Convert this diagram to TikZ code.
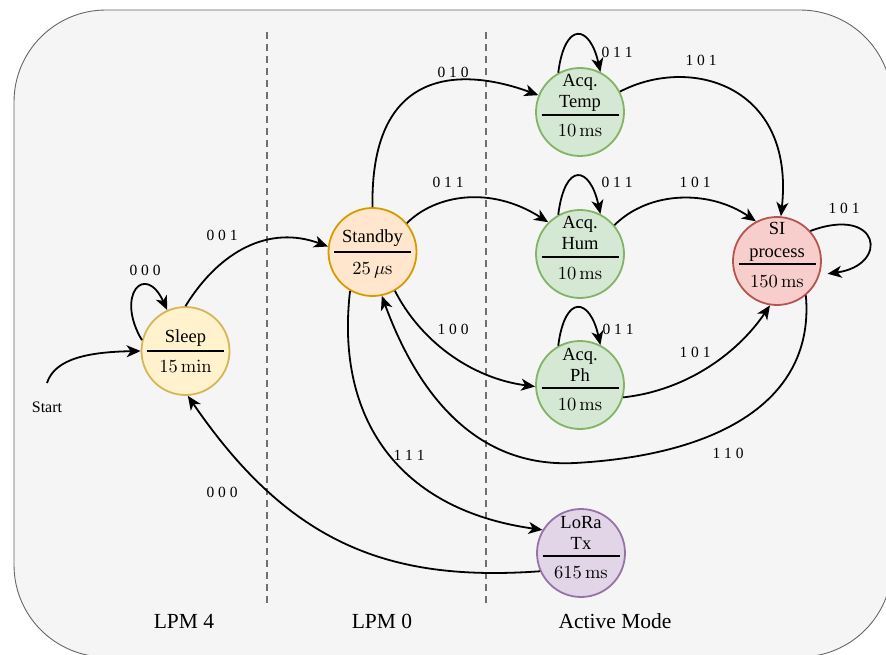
\documentclass[tikz,border=0pt]{standalone}
\usepackage{fix-cm}
\usepackage[no-math]{fontspec}
\setmainfont{Liberation Serif}
\usetikzlibrary{arrows.meta}
\definecolor{bgfill}{HTML}{F5F5F5}
\definecolor{framegray}{HTML}{666666}
\definecolor{divgray}{HTML}{707070}
\definecolor{sleepfill}{HTML}{FFF2CC}
\definecolor{sleepdraw}{HTML}{D6B656}
\definecolor{stbyfill}{HTML}{FFE6CC}
\definecolor{stbydraw}{HTML}{D79B00}
\definecolor{grnfill}{HTML}{D5E8D4}
\definecolor{grndraw}{HTML}{82B366}
\definecolor{redfill}{HTML}{F8CECC}
\definecolor{reddraw}{HTML}{B85450}
\definecolor{purfill}{HTML}{E1D5E7}
\definecolor{purdraw}{HTML}{9673A6}
\newcommand{\durtxt}[1]{\scalebox{1.85}{\fontsize{10}{12}\selectfont$#1$}}
\begin{document}
\begin{tikzpicture}[x=1pt,y=-1pt,
  state/.style={circle,minimum size=88pt,inner sep=0pt,line width=1.8pt},
  nametext/.style={anchor=base,inner sep=0pt,font=\fontsize{18.5}{21}\selectfont},
  sepline/.style={line width=1.9pt},
  edge/.style={line width=1.8pt,-{Stealth[length=14pt,width=12pt,inset=4pt]}},
  lab/.style={font=\fontsize{15.5}{18}\selectfont,inner sep=0pt},
  region/.style={font=\fontsize{21.5}{24}\selectfont,inner sep=0pt},
  divider/.style={line width=2pt,draw=divgray,dash pattern=on 7pt off 5pt}]
\useasboundingbox (0,0) rectangle (886,655);
\clip (0,0) rectangle (886,655);
% background
\draw[draw=framegray,fill=bgfill,line width=0.9pt,rounded corners=92pt] (14,10) rectangle (892,657);
% dividers
\coordinate (d1top) at (266.5,32);
\coordinate (d1bot) at (266.5,604);
\coordinate (d2top) at (486,32);
\coordinate (d2bot) at (486,604);
\draw[divider] (d1top) -- (d1bot);
\draw[divider] (d2top) -- (d2bot);
% region labels
\node[region] (lpm4) at (184,621) {LPM 4};
\node[region] (lpm0) at (382,621) {LPM 0};
\node[region] (active) at (615,621) {Active Mode};
% states
\node[state,draw=sleepdraw,fill=sleepfill] (sleep) at (185.5,351) {};
\node[nametext] (sleepn) at ([yshift=9pt]sleep.center) {Sleep};
\node[nametext] (sleept) at ([yshift=-21pt]sleep.center) {\durtxt{15\,\mathrm{min}}};
\draw[sepline] ([xshift=-38.5pt]sleep.center) -- ([xshift=38.5pt]sleep.center);

\node[state,draw=stbydraw,fill=stbyfill] (standby) at (372.5,252) {};
\node[nametext] (standbyn) at ([yshift=9pt]standby.center) {Standby};
\node[nametext] (standbyt) at ([yshift=-22pt]standby.center) {\durtxt{25\,\mu\mathrm{s}}};
\draw[sepline] ([xshift=-38.5pt]standby.center) -- ([xshift=38.5pt]standby.center);

\node[state,draw=grndraw,fill=grnfill] (temp) at (580,112) {};
\node[nametext] (tempa) at ([yshift=25pt]temp.center) {Acq.};
\node[nametext] (tempb) at ([yshift=4pt]temp.center) {Temp};
\node[nametext] (tempt) at ([yshift=-25pt]temp.center) {\durtxt{10\,\mathrm{ms}}};
\draw[sepline] ([xshift=-38.5pt,yshift=-3pt]temp.center) -- ([xshift=38.5pt,yshift=-3pt]temp.center);

\node[state,draw=grndraw,fill=grnfill] (hum) at (580,254) {};
\node[nametext] (huma) at ([yshift=25pt]hum.center) {Acq.};
\node[nametext] (humb) at ([yshift=4pt]hum.center) {Hum};
\node[nametext] (humt) at ([yshift=-25pt]hum.center) {\durtxt{10\,\mathrm{ms}}};
\draw[sepline] ([xshift=-38.5pt,yshift=-3pt]hum.center) -- ([xshift=38.5pt,yshift=-3pt]hum.center);

\node[state,draw=grndraw,fill=grnfill] (ph) at (580,385) {};
\node[nametext] (pha) at ([yshift=25pt]ph.center) {Acq.};
\node[nametext] (phb) at ([yshift=4pt]ph.center) {Ph};
\node[nametext] (pht) at ([yshift=-25pt]ph.center) {\durtxt{10\,\mathrm{ms}}};
\draw[sepline] ([xshift=-38.5pt,yshift=-3pt]ph.center) -- ([xshift=38.5pt,yshift=-3pt]ph.center);

\node[state,draw=purdraw,fill=purfill] (lora) at (581,553) {};
\node[nametext] (loraa) at ([yshift=25pt]lora.center) {LoRa};
\node[nametext] (lorab) at ([yshift=4pt]lora.center) {Tx};
\node[nametext] (lorat) at ([yshift=-25pt]lora.center) {\durtxt{615\,\mathrm{ms}}};
\draw[sepline] ([xshift=-38.5pt,yshift=-3pt]lora.center) -- ([xshift=38.5pt,yshift=-3pt]lora.center);

\node[state,draw=reddraw,fill=redfill] (si) at (777,261) {};
\node[nametext] (sia) at ([yshift=26pt]si.center) {SI};
\node[nametext] (sib) at ([yshift=3pt]si.center) {process};
\node[nametext] (sit) at ([yshift=-26pt]si.center) {\durtxt{150\,\mathrm{ms}}};
\draw[sepline] ([xshift=-38.5pt,yshift=-3pt]si.center) -- ([xshift=38.5pt,yshift=-3pt]si.center);

% start
\node[lab,font=\fontsize{16}{19}\selectfont] (start) at (47,407) {Start};
\coordinate (startpt) at (47,383);
\draw[edge] (startpt) .. controls (55,358) and (90,352) .. (sleep.180);

% edges
\draw[edge] (sleep.166) .. controls (115,295) and (145,262) .. (sleep.114);
\draw[edge] (sleep.90) .. controls (220,250) and (270,225) .. (standby.173);
\draw[edge] (standby.90) .. controls (370,60) and (470,70) .. (temp.158);
\draw[edge] (standby.40) .. controls (435,195) and (490,185) .. (hum.135);
\draw[edge] (standby.-60) .. controls (420,340) and (470,378) .. (ph.182);
\draw[edge] (standby.240) .. controls (335,420) and (400,510) .. (lora.149);
\draw[edge] (lora.204) .. controls (390,582) and (290,545) .. (sleep.273);
\draw[edge] (temp.119) .. controls (565,20) and (590,25) .. (temp.63);
\draw[edge] (hum.119) .. controls (565,161) and (590,166) .. (hum.63);
\draw[edge] (ph.119) .. controls (565,293) and (590,298) .. (ph.63);
\draw[edge] (temp.27) .. controls (690,55) and (795,85) .. (si.85);
\draw[edge] (hum.40) .. controls (650,190) and (710,190) .. (si.118);
\draw[edge] (ph.344) .. controls (690,390) and (740,350) .. (si.261);
\draw[edge,shorten >=8pt] (si.42) .. controls (880,205) and (890,265) .. (si.-18);
\coordinate (low) at (575,463);
\draw[edge] (si.-50) .. controls (815,400) and (720,455) .. (low) .. controls (480,468) and (420,400) .. (standby.-78);

% edge labels
\node[lab] (l000a) at (145,270) {0 0 0};
\node[lab] (l001) at (222,235) {0 0 1};
\node[lab] (l010) at (453,72) {0 1 0};
\node[lab] (l011s) at (448,182) {0 1 1};
\node[lab] (l011t) at (617,52) {0 1 1};
\node[lab] (l011h) at (617,182) {0 1 1};
\node[lab] (l011p) at (618,329) {0 1 1};
\node[lab] (l101t) at (701,60) {1 0 1};
\node[lab] (l101h) at (695,182) {1 0 1};
\node[lab] (l101s) at (844,208) {1 0 1};
\node[lab] (l101p) at (695,352) {1 0 1};
\node[lab] (l100) at (453,329) {1 0 0};
\node[lab] (l110) at (728,453) {1 1 0};
\node[lab] (l111) at (409,455) {1 1 1};
\node[lab] (l000b) at (222,492) {0 0 0};
\end{tikzpicture}
\end{document}
